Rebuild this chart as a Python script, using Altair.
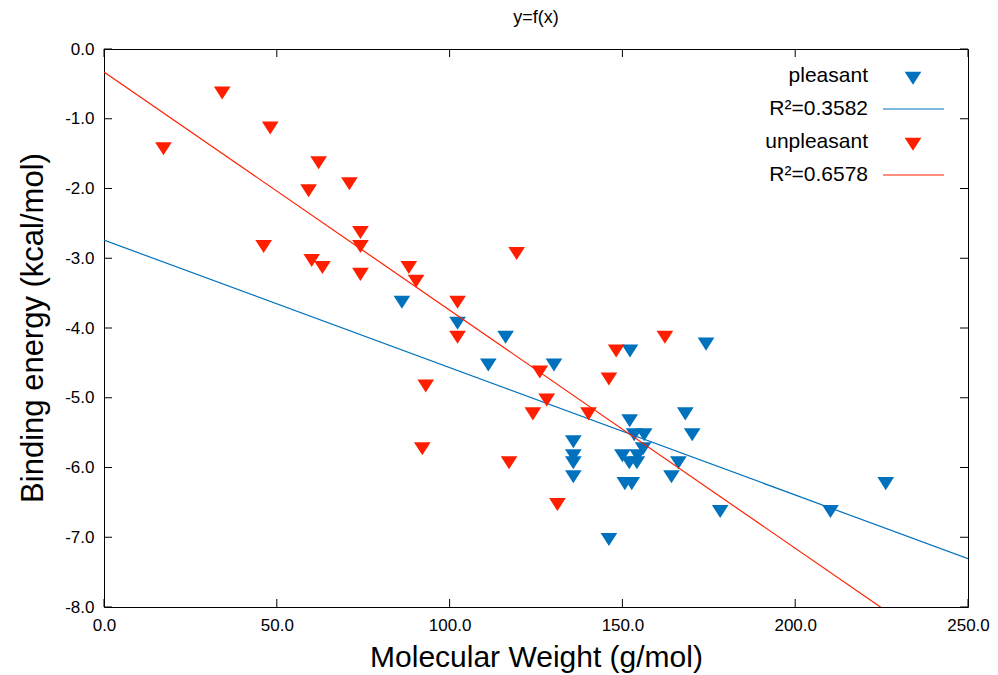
import altair as alt
import pandas as pd

# ---------------- data ----------------
pleasant_mw = [86.2, 102.3, 116.2, 111.2, 130.2, 152.2, 174.2, 168.2, 152.1, 170.2,
               153.4, 156.3, 135.8, 135.8, 135.8, 135.8, 156.0, 150.0, 154.4, 152.0,
               154.2, 166.2, 164.2, 150.7, 152.7, 146.1, 178.3, 210.2, 226.2]
pleasant_be = [-3.6, -3.9, -4.1, -4.5, -4.5, -4.3, -4.2, -5.2, -5.3, -5.5,
               -5.5, -5.5, -5.6, -5.8, -5.9, -6.1, -5.7, -5.8, -5.8, -5.9,
               -5.9, -5.9, -6.1, -6.2, -6.2, -7.0, -6.6, -6.6, -6.2]

unpleasant_mw = [17.2, 34.2, 48.1, 62.1, 71.0, 59.2, 74.2, 74.2, 46.2, 60.1,
                 63.2, 74.2, 88.2, 90.3, 102.3, 102.3, 119.4, 126.1, 148.2, 162.3,
                 146.1, 93.1, 128.1, 124.1, 140.2, 92.1, 117.2, 131.2]
unpleasant_be = [-1.4, -0.6, -1.1, -1.6, -1.9, -2.0, -2.6, -2.8, -2.8, -3.0,
                 -3.1, -3.2, -3.1, -3.3, -3.6, -4.1, -2.9, -4.6, -4.3, -4.1,
                 -4.7, -4.8, -5.0, -5.2, -5.2, -5.7, -5.9, -6.5]

fit_intercept = {"pleasant": -2.74, "unpleasant": -0.33}
fit_slope = {"pleasant": -0.01827, "unpleasant": -0.03414}
fit_r2 = {"pleasant": "0.3582", "unpleasant": "0.6578"}

x_ticks = [0, 50, 100, 150, 200, 250]
y_ticks = [0, -1, -2, -3, -4, -5, -6, -7, -8]
x_domain = [0, 250]
y_domain = [-8, 0]

# ---------------- style ----------------
BLUE = "#0072bd"
RED = "#ff1f00"
FONT = "Liberation Sans"
W, H = 864, 558
TICK = 8
TRI = "M-1,-0.52 L1,-0.52 L0,1.04 Z"   # downward triangle, centroid at origin
MSIZE = 279
LABEL_EXPR = "replace(format(datum.value, '.1f'), '\u2212', '-')"

xs = alt.Scale(domain=x_domain, nice=False, zero=False)
ys = alt.Scale(domain=y_domain, nice=False, zero=False)
axis_common = dict(domain=False, ticks=False, grid=False,
                   labelFont=FONT, labelFontSize=17, labelColor="black", labelPadding=10,
                   titleFont=FONT, titleFontWeight="normal",
                   titleColor="black", labelOverlap=False, labelExpr=LABEL_EXPR)
x_axis = alt.Axis(title="Molecular Weight (g/mol)", values=x_ticks,
                  labelFlush=False, titleY=50, titleBaseline="middle",
                  titleFontSize=30, **axis_common)
y_axis = alt.Axis(title="Binding energy (kcal/mol)", values=y_ticks,
                  titleX=-71, titleY=278.5, titleBaseline="middle", titleAlign="center",
                  titleAngle=270, titleFontSize=31, **axis_common)


def X(field):
    return alt.X(f"{field}:Q", scale=xs, axis=x_axis)


def Y(field):
    return alt.Y(f"{field}:Q", scale=ys, axis=y_axis)


def points(mw, be, color):
    df = pd.DataFrame({"mw": mw, "be": be})
    return alt.Chart(df).mark_point(shape=TRI, filled=True, size=MSIZE, opacity=1,
                                    strokeWidth=0, color=color).encode(x=X("mw"), y=Y("be"))


def fit_line(series, color):
    a, b = fit_intercept[series], fit_slope[series]
    df = pd.DataFrame({"mw": x_domain, "be": [a + b * v for v in x_domain]})
    return alt.Chart(df).mark_line(color=color, strokeWidth=1.2, clip=True).encode(
        x=X("mw"), y=Y("be"))


xt = pd.DataFrame({"v": x_ticks})
yt = pd.DataFrame({"v": y_ticks})
tick_style = dict(color="black", strokeWidth=1)
ticks = [
    alt.Chart(xt).mark_rule(**tick_style).encode(x=X("v"), y=alt.value(H), y2=alt.value(H - TICK)),
    alt.Chart(xt).mark_rule(**tick_style).encode(x=X("v"), y=alt.value(0), y2=alt.value(TICK)),
    alt.Chart(yt).mark_rule(**tick_style).encode(y=Y("v"), x=alt.value(0), x2=alt.value(TICK)),
    alt.Chart(yt).mark_rule(**tick_style).encode(y=Y("v"), x=alt.value(W), x2=alt.value(W - TICK)),
]

# ---------------- legend (gnuplot-style key) ----------------
legend_rows = ["pleasant", "R\u00b2=" + fit_r2["pleasant"],
               "unpleasant", "R\u00b2=" + fit_r2["unpleasant"]]
legend_colors = [BLUE, BLUE, RED, RED]
LX_TEXT, LX_SYM, LX_L1, LX_L2 = 764, 809, 779, 840
LY0, LDY = 27, 33
legend = []
for i, (lab, col) in enumerate(zip(legend_rows, legend_colors)):
    ly = LY0 + LDY * i
    one = pd.DataFrame({"label": [lab]})
    legend.append(alt.Chart(one).mark_text(align="right", baseline="middle", fontSize=21,
                                           font=FONT, color="black").encode(
        x=alt.value(LX_TEXT), y=alt.value(ly), text="label:N"))
    if i % 2 == 0:
        legend.append(alt.Chart(one).mark_point(shape=TRI, filled=True, size=MSIZE, opacity=1,
                                                strokeWidth=0, color=col).encode(
            x=alt.value(LX_SYM), y=alt.value(ly)))
    else:
        legend.append(alt.Chart(one).mark_rule(color=col, strokeWidth=1.2).encode(
            x=alt.value(LX_L1), x2=alt.value(LX_L2), y=alt.value(ly)))

chart = alt.layer(
    points(pleasant_mw, pleasant_be, BLUE),
    fit_line("pleasant", BLUE),
    points(unpleasant_mw, unpleasant_be, RED),
    fit_line("unpleasant", RED),
    *ticks,
    *legend,
).properties(
    width=W, height=H,
    background="white",
    title=alt.TitleParams("y=f(x)", fontSize=18, fontWeight="normal", font=FONT,
                          color="black", anchor="middle", frame="group", offset=13),
    autosize=alt.AutoSizeParams(type="none"),
    padding={"left": 104, "top": 49, "right": 30, "bottom": 68},
).configure_view(
    stroke="black", strokeWidth=1
)

chart.save("out.html", embed_options={"renderer": "svg", "actions": False})
